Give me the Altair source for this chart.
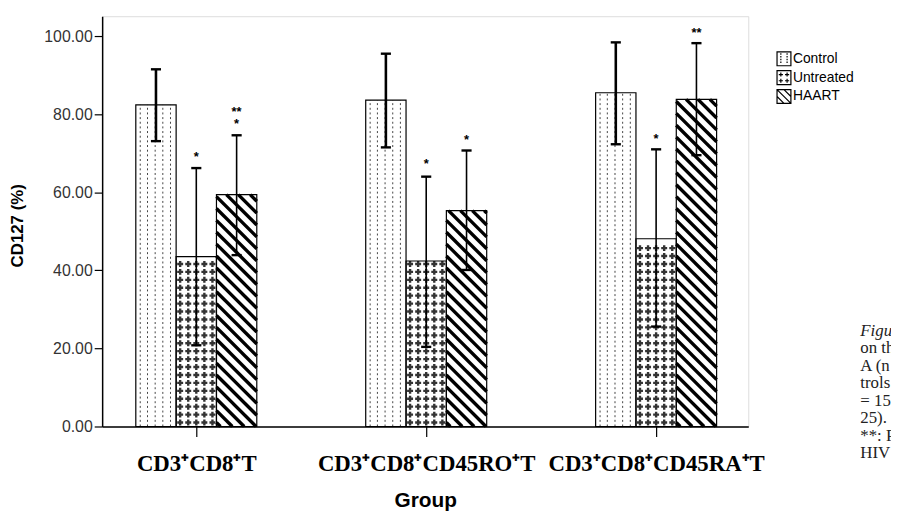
import altair as alt
import pandas as pd
import numpy as np

# ---------------- data ----------------
groups = ["CD3⁺CD8⁺T", "CD3⁺CD8⁺CD45RO⁺T", "CD3⁺CD8⁺CD45RA⁺T"]
series = ["Control", "Untreated", "HAART"]

control_mean = [82.4, 83.6, 85.5]
control_low = [73.1, 71.5, 72.3]
control_high = [91.5, 95.5, 98.4]

untreated_mean = [43.5, 42.4, 48.1]
untreated_low = [20.8, 20.4, 25.6]
untreated_high = [66.2, 64.0, 71.0]

haart_mean = [59.4, 55.3, 83.8]
haart_low = [43.9, 40.1, 69.5]
haart_high = [74.6, 70.7, 98.2]

star_group = [0, 0, 0, 1, 1, 2, 2]
star_series = ["Untreated", "HAART", "HAART", "Untreated", "HAART", "Untreated", "HAART"]
star_text = ["*", "**", "*", "*", "*", "*", "**"]
star_y = [69.8, 81.2, 78.2, 68.0, 74.1, 74.4, 101.5]

y_ticks = [0, 20, 40, 60, 80, 100]

caption_first = "Figure 3"
caption_lines = ["on the", "A (n =", "trols", "= 15", "25).", "**: P", "HIV"]

# ---------------- layout (not data) ----------------
PLOT_W, PLOT_H = 652, 414
X_DOM = [-0.4095, 2.4009]
Y_DOM = [0, 105.1]
BAR_W = 0.1754
PX_X = PLOT_W / (X_DOM[1] - X_DOM[0])
PX_Y = PLOT_H / (Y_DOM[1] - Y_DOM[0])

means = {"Control": control_mean, "Untreated": untreated_mean, "HAART": haart_mean}
lows = {"Control": control_low, "Untreated": untreated_low, "HAART": haart_low}
highs = {"Control": control_high, "Untreated": untreated_high, "HAART": haart_high}

rows = []
for g in range(len(groups)):
    for s, name in enumerate(series):
        x0 = g + (s - 1.5) * BAR_W
        rows.append(dict(group=g, series=name, x0=x0, x1=x0 + BAR_W,
                         xc=x0 + BAR_W / 2, mean=means[name][g],
                         low=lows[name][g], high=highs[name][g],
                         cl=x0 + BAR_W / 2 - 0.022, cr=x0 + BAR_W / 2 + 0.022))
bars = pd.DataFrame(rows)

# pattern: control dotted vertical lines
dot_rows = []
for r in rows:
    if r["series"] == "Control":
        for f in [0.11, 0.29, 0.48, 0.67, 0.86]:
            dot_rows.append(dict(x=r["x0"] + f * BAR_W, y=0, y2=r["mean"]))
dots = pd.DataFrame(dot_rows)

# pattern: untreated crosses
cross_rows = []
for r in rows:
    if r["series"] == "Untreated":
        hpx = r["mean"] * PX_Y
        ypx = 4.0
        while ypx + 3 <= hpx:
            for j in range(5):
                cross_rows.append(dict(x=r["x0"] + (j + 0.5) * BAR_W / 5, y=ypx / PX_Y))
            ypx += 8.0
crosses = pd.DataFrame(cross_rows)

# pattern: HAART diagonal hatching
hatch_rows = []
for r in rows:
    if r["series"] == "HAART":
        w = BAR_W * PX_X
        h = r["mean"] * PX_Y
        c = 4.0
        while c < h + w:
            xa = max(0.0, c - h)
            xb = min(w, c)
            if xb > xa:
                hatch_rows.append(dict(x=r["x0"] + xa / PX_X, x2=r["x0"] + xb / PX_X,
                                       y=(c - xa) / PX_Y, y2=(c - xb) / PX_Y))
            c += 12.0
hatch = pd.DataFrame(hatch_rows)

stars = pd.DataFrame(dict(group=star_group, series=star_series, text=star_text, y=star_y))
stars["x"] = [g + (series.index(s) - 1) * BAR_W for g, s in zip(star_group, star_series)]

one = pd.DataFrame({"k": [0]})

xscale = alt.Scale(domain=X_DOM, nice=False, zero=False)
yscale = alt.Scale(domain=Y_DOM, nice=False, zero=True)

label_expr = "[" + ",".join("'" + g + "'" for g in groups) + "][datum.value]"

x_axis = alt.Axis(values=[0, 1, 2], labelExpr=label_expr, title="Group",
                  labelFont="Liberation Serif", labelFontWeight="bold", labelFontSize=23,
                  labelColor="black", labelPadding=16, labelFlush=False, labelOverlap=False,
                  labelLimit=0, labelBound=False,
                  tickSize=10, tickColor="black", tickWidth=1.2, domainColor="black",
                  domainWidth=1.5, grid=False, titleFont="Liberation Sans",
                  titleFontWeight="bold", titleFontSize=21, titleColor="black",
                  titleBaseline="alphabetic", titleY=81)
y_axis = alt.Axis(values=y_ticks, format=".2f", title="CD127 (%)",
                  labelFont="Liberation Sans", labelFontSize=16, labelColor="#333",
                  labelPadding=2, tickSize=8, tickColor="black", tickWidth=1.2,
                  domainColor="black", domainWidth=1.5, grid=False,
                  titleFont="Liberation Sans", titleFontWeight="bold", titleFontSize=17,
                  titleColor="black", titleX=-76, titleY=211)

base = alt.Chart(bars)

bar_fill = base.mark_rect(fill="white", stroke=None).encode(
    x=alt.X("x0:Q", scale=xscale, axis=x_axis), x2="x1:Q",
    y=alt.Y("mean:Q", scale=yscale, axis=y_axis), y2=alt.datum(0))

dot_layer = alt.Chart(dots).mark_rule(color="#444", strokeWidth=1, strokeDash=[2, 2.7]).encode(
    x="x:Q", y="y:Q", y2="y2:Q")

cross_layer = alt.Chart(crosses).mark_point(shape="cross", filled=True, color="#333",
                                            size=36, opacity=1).encode(x="x:Q", y="y:Q")

hatch_layer = alt.Chart(hatch).mark_rule(color="black", strokeWidth=3.4, strokeCap="butt").encode(
    x="x:Q", x2="x2:Q", y="y:Q", y2="y2:Q")

bar_outline = base.mark_rect(fill=None, stroke="black", strokeWidth=1.2).encode(
    x="x0:Q", x2="x1:Q", y="mean:Q", y2=alt.datum(0))

ctrl_paths = "M-1,-1H1V1H-1Z" + "".join(
    f"M{x},{y0}V{y0 + 0.2}" for x in [-0.45, 0.45] for y0 in [-0.8, -0.4, 0.0, 0.4])
untr_paths = "M-1,-1H1V1H-1Z" + "".join(
    f"M{cx - 0.3},{cy}H{cx + 0.3}M{cx},{cy - 0.3}V{cy + 0.3}"
    for cx, cy in [(-0.45, -0.45), (0.45, -0.45), (-0.45, 0.45), (0.45, 0.45)])
haart_paths = "M-1,-1H1V1H-1ZM-1,-1L1,1M0,-1L1,0M-1,0L0,1"

legend_layer = base.mark_point(opacity=0, color="black", filled=False).encode(
    x="xc:Q", y=alt.datum(0),
    shape=alt.Shape("series:N",
                    scale=alt.Scale(domain=series, range=[ctrl_paths, untr_paths, haart_paths]),
                    legend=alt.Legend(title=None, orient="none", legendX=680, legendY=35,
                                      labelFont="Liberation Sans", labelFontSize=14,
                                      labelColor="black", symbolSize=196,
                                      symbolStrokeWidth=1.2, symbolStrokeColor="black",
                                      symbolFillColor="white", symbolOpacity=1,
                                      labelOffset=1, rowPadding=-1, padding=0)))

err_w = alt.condition(alt.datum.series == "Control", alt.value(2.6), alt.value(1.6))
err_v = base.mark_rule(color="black").encode(x="xc:Q", y="low:Q", y2="high:Q", strokeWidth=err_w)
cap_hi = base.mark_rule(color="black", strokeWidth=2.4).encode(x="cl:Q", x2="cr:Q", y="high:Q")
cap_lo = base.mark_rule(color="black", strokeWidth=2.4).encode(x="cl:Q", x2="cr:Q", y="low:Q")

star_layer = alt.Chart(stars).mark_text(font="Liberation Sans", fontWeight="bold", fontSize=13,
                                        baseline="middle", dy=3, color="black").encode(
    x="x:Q", y="y:Q", text="text:N")

cap1 = alt.Chart(one).mark_text(text=caption_first, font="Liberation Serif", fontStyle="italic",
                                fontSize=17, align="left", baseline="middle",
                                color="#222").encode(x=alt.value(765), y=alt.value(318))
cap2 = alt.Chart(one).mark_text(text="\n".join(caption_lines), lineBreak="\n", lineHeight=17.7,
                                font="Liberation Serif", fontSize=17, align="left",
                                baseline="top", color="#222").encode(
    x=alt.value(765), y=alt.value(327))

chart = alt.layer(bar_fill, dot_layer, cross_layer, hatch_layer, bar_outline, legend_layer,
                  err_v, cap_hi, cap_lo, star_layer, cap1, cap2).properties(
    width=PLOT_W, height=PLOT_H,
    autosize=alt.AutoSizeParams(type="none"),
    padding={"left": 95, "top": 6, "right": 144, "bottom": 85},
).configure_view(stroke="#444", strokeWidth=1.5).configure(background="white")

chart.save("out.html", embed_options={"renderer": "svg", "actions": False})
